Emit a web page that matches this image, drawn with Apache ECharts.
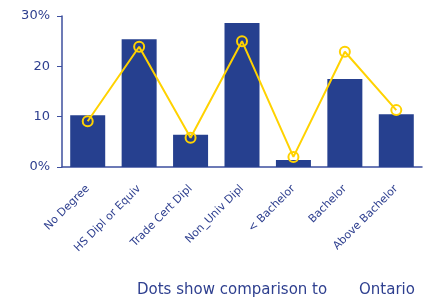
<!DOCTYPE html>
<html>
<head>
<meta charset="utf-8">
<script src="https://cdn.jsdelivr.net/npm/echarts@6/dist/echarts.min.js"></script>
<style>
  html, body { margin: 0; padding: 0; background: #fff; }
  #chart { width: 426px; height: 308px; }
</style>
</head>
<body>
<div id="chart"></div>
<script>
var categories = ['No Degree', 'HS Dipl or Equiv', 'Trade Cert Dipl', 'Non_Univ Dipl', '< Bachelor', 'Bachelor', 'Above Bachelor'];
var barValues = [10.3, 25.4, 6.4, 28.6, 1.4, 17.5, 10.5];
var dotValues = [9.1, 23.9, 5.8, 25.0, 2.0, 22.9, 11.3];
var yTicks = { 0: '0%', 10: '10', 20: '20', 30: '30%' };

var chart = echarts.init(document.getElementById('chart'));
var txt = '#2e3f8f';
var axisCol = '#3d4f9e';

var option = {
  animation: false,
  grid: { left: 62, right: 4, top: 16, bottom: 141 },
  graphic: [
    { type: 'text', left: 137, top: 283, style: { text: 'Dots show comparison to', font: '15px "DejaVu Sans"', fill: txt } },
    { type: 'text', left: 359, top: 283, style: { text: 'Ontario', font: '15px "DejaVu Sans"', fill: txt } }
  ],
  xAxis: {
    type: 'category',
    data: categories,
    axisLine: { lineStyle: { color: axisCol, width: 1.5 } },
    axisTick: { alignWithLabel: true, length: 5, lineStyle: { color: axisCol } },
    axisLabel: { rotate: 45, interval: 0, color: txt, fontFamily: 'DejaVu Sans', fontSize: 11, margin: 20 }
  },
  yAxis: {
    type: 'value',
    min: 0, max: 30, interval: 10,
    splitLine: { show: false },
    axisLine: { show: true, lineStyle: { color: axisCol, width: 1.5 } },
    axisTick: { show: true, length: 5, lineStyle: { color: axisCol } },
    axisLabel: {
      color: txt, fontFamily: 'DejaVu Sans', fontSize: 13, margin: 12,
      formatter: function (v) { return yTicks[v]; }
    }
  },
  series: [
    {
      type: 'bar',
      data: barValues,
      barWidth: 35,
      itemStyle: { color: '#26408f' }
    },
    {
      type: 'line',
      data: dotValues,
      symbol: 'circle',
      symbolSize: 10,
      lineStyle: { color: '#ffd200', width: 2 },
      itemStyle: { color: 'transparent', borderColor: '#ffd200', borderWidth: 2 }
    }
  ]
};
chart.setOption(option);
</script>
</body>
</html>
